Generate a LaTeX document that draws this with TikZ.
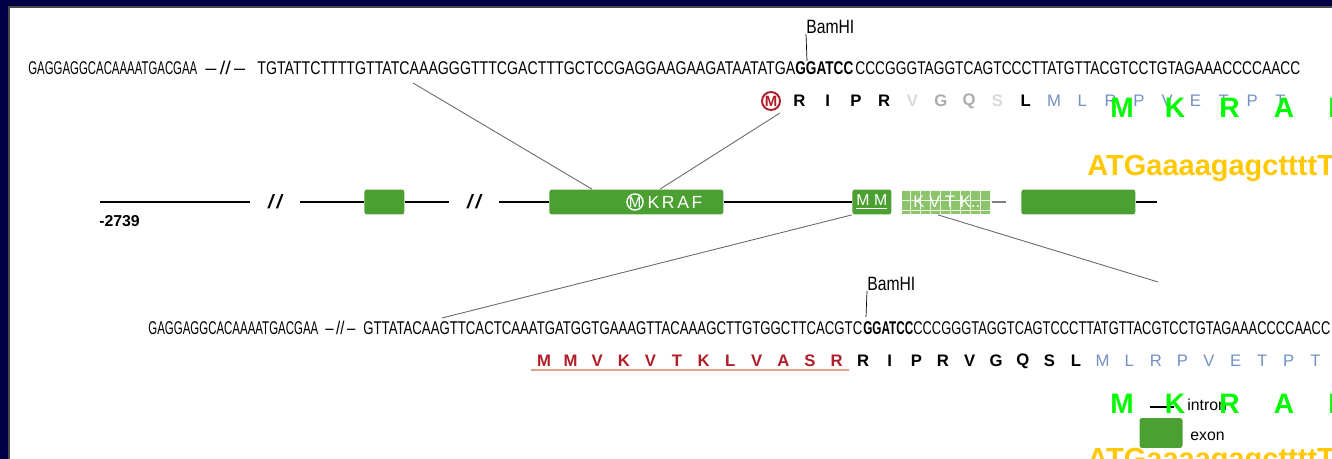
\documentclass[tikz,border=0pt]{standalone}
\usepackage{fontspec}
\setmainfont{Liberation Sans}
\usetikzlibrary{positioning, calc}
\definecolor{framenavy}{RGB}{0,0,70}
\definecolor{exongreen}{RGB}{76,160,50}
\definecolor{hatchgreen}{RGB}{140,196,108}
\definecolor{aared}{RGB}{175,30,40}
\definecolor{aablue}{RGB}{115,145,195}
\definecolor{cutgray}{RGB}{105,105,105}
\definecolor{ulsalmon}{RGB}{225,160,140}
\definecolor{limegreen}{RGB}{0,250,0}
\definecolor{goldtxt}{RGB}{255,200,0}
\newcommand{\fitw}[2]{\resizebox{#1}{\height}{#2}}

\begin{document}
\begin{tikzpicture}[
    x=0.02cm, y=-0.02cm,
    seqtxt/.style={anchor=base west, inner sep=0pt, font=\fontsize{10.5}{11}\selectfont},
    aa/.style={inner sep=0pt, font=\fontsize{9.5}{10}\selectfont\bfseries},
    exon/.style={fill=exongreen, rounded corners=1.5pt, inner sep=0pt,
                 minimum height=0.5cm, anchor=west, text=white,
                 font=\fontsize{9}{10}\selectfont},
    hatch/.style={fill=hatchgreen, inner sep=0pt, minimum height=0.5cm,
                  anchor=west, text=white, font=\fontsize{9}{10}\selectfont},
    intron/.style={line width=1.3pt},
    cut/.style={cutgray, line width=0.5pt},
    brk/.style={inner sep=0pt, minimum width=1cm, font=\fontsize{11}{11}\selectfont\bfseries\itshape},
    site/.style={inner sep=0pt, anchor=south west, font=\fontsize{11}{11}\selectfont},
    bigaa/.style={inner sep=0pt, anchor=west, text=limegreen, font=\fontsize{16}{16}\selectfont\bfseries},
    bigseq/.style={inner sep=0pt, anchor=west, text=goldtxt, font=\fontsize{16.5}{17}\selectfont\bfseries},
    lgd/.style={inner sep=0pt, anchor=west, font=\fontsize{9}{10}\selectfont}
  ]
    \useasboundingbox (0,0) rectangle (1332,459);
    \clip (0,0) rectangle (1332,459);
    \fill[framenavy] (0,0) rectangle (1332,459);
    \fill[white] (9,7) rectangle (1332,459);
    \draw[black!70, line width=0.6pt] (9,459) -- (9,7) -- (1332,7);

    % upper sequence
    \node[seqtxt] (tA)   at (28,75)  {\fitw{3.38cm}{GAGGAGGCACAAAATGACGAA}};
    \node[seqtxt] (tbrk) at (205,75) {\fitw{0.8cm}{\textendash\,//\,\textendash}};
    \node[seqtxt] (tB)   at (257,75) {\fitw{10.76cm}{TGTATTCTTTTGTTATCAAAGGGTTTCGACTTTGCTCCGAGGAAGAAGATAATATGA}};
    \node[seqtxt, font=\fontsize{10.5}{11}\selectfont\bfseries] (tC) at (795,75) {\fitw{1.16cm}{GGATCC}};
    \node[seqtxt] (tD)   at (855,75) {\fitw{8.9cm}{CCCGGGTAGGTCAGTCCCTTATGTTACGTCCTGTAGAAACCCCAACC}};
    \node[site] (tsite) at (806,34) {\fitw{0.96cm}{BamHI}};
    \coordinate (ttick) at (807,61);
    \draw[thin] (ttick) -- (tsite.south west);

    \node[draw=aared, circle, line width=1.1pt, text=aared, inner sep=0pt, minimum size=0.36cm,
          font=\fontsize{8.5}{8}\selectfont\bfseries] (tM) at (771,101) {M};
    \foreach \aa/\c [count=\i] in {R/black, I/black, P/black, R/black, V/gray!30,
                                   G/gray!65, Q/gray!65, S/gray!30, L/black}
      \node[aa, text=\c] (ta\i) at ({771+28.3*\i},101) {\aa};
    \foreach \aa [count=\i from 10] in {M,L,R,P,V,E,T,P,T}
      \node[aa, text=aablue, font=\fontsize{9.5}{10}\selectfont] (ta\i) at ({771+28.3*\i},101) {\aa};

    % gene model
    \coordinate (gstart) at (100,202);
    \node[brk] (brk1) at (275,202) {/\,/};
    \node[exon, minimum width=0.8cm] (ex1) at (364,202) {};
    \node[brk] (brk2) at (474,202) {/\,/};
    \node[exon, minimum width=3.48cm] (ex2) at (549,202) {};
    \node[draw=white, circle, line width=0.8pt, text=white, inner sep=0pt, minimum size=0.32cm,
          font=\fontsize{8.5}{8}\selectfont] (kM) at (635,202) {M};
    \node[right=2pt of kM, inner sep=0pt, text=white,
          font=\fontsize{10}{10}\selectfont\addfontfeature{LetterSpace=15}] (kraf) {KRAF};
    \node[exon, minimum width=0.78cm] (ex3) at (852,202) {\underline{M M}};
    \node[hatch, minimum width=1.78cm] (ex3b) at (902,202) {};
    \draw[white!85!hatchgreen, line width=0.3pt, step=0.2cm] (ex3b.south west) grid (ex3b.north east);
    \node[inner sep=0pt, text=white, font=\fontsize{9.5}{10}\selectfont] (kvtk) at (ex3b) {K V T K..};
    \coordinate (gdash) at (1006,202);
    \node[exon, minimum width=2.28cm] (ex4) at (1021,202) {};
    \coordinate (gend) at (1157,202);
    \draw[intron] (gstart) -- (brk1.west);
    \draw[intron] (brk1.east) -- (ex1.west);
    \draw[intron] (ex1.east) -- (brk2.west);
    \draw[intron] (brk2.east) -- (ex2.west);
    \draw[intron] (ex2.east) -- (ex3.west);
    \draw[gray, line width=1pt] (ex3b.east) -- (gdash);
    \draw[intron] (ex4.east) -- (gend);
    \node[inner sep=0pt, anchor=west, font=\fontsize{9}{10}\selectfont\bfseries] (gpos) at (99,221) {-2739};

    \coordinate (tcut1) at (413,83);
    \coordinate (tcut2) at (780,113);
    \draw[cut] (tcut1) -- ($(ex2.north west)+(43,0)$);
    \draw[cut] (tcut2) -- ($(ex2.north west)+(111,0)$);
    \coordinate (bcut1) at (442,318);
    \coordinate (bcut2) at (1158,282);
    \draw[cut] (ex3.south west) -- (bcut1);
    \draw[cut] ($(ex3b.south west)+(36,0)$) -- (bcut2);

    % lower sequence
    \node[seqtxt] (bA)   at (148,335) {\fitw{3.4cm}{GAGGAGGCACAAAATGACGAA}};
    \node[seqtxt] (bbrk) at (325,335) {\fitw{0.6cm}{\textendash\,//\,\textendash}};
    \node[seqtxt] (bB)   at (363,335) {\fitw{9.98cm}{GTTATACAAGTTCACTCAAATGATGGTGAAAGTTACAAAGCTTGTGGCTTCACGTC}};
    \node[seqtxt, font=\fontsize{10.5}{11}\selectfont\bfseries] (bC) at (863,335) {\fitw{1.0cm}{GGATCC}};
    \node[seqtxt] (bD)   at (913,335) {\fitw{8.34cm}{CCCGGGTAGGTCAGTCCCTTATGTTACGTCCTGTAGAAACCCCAACC}};
    \node[site] (bsite) at (867,291) {\fitw{0.96cm}{BamHI}};
    \coordinate (btick) at (866,317);
    \draw[thin] (btick) -- (bsite.south west);

    \foreach \aa [count=\i] in {M,M,V,K,V,T,K,L,V,A,S,R}
      \node[aa, text=aared] (ba\i) at ({544+26.6*(\i-1)},361) {\aa};
    \foreach \aa [count=\i from 13] in {R,I,P,R,V,G,Q,S,L}
      \node[aa] (ba\i) at ({544+26.6*(\i-1)},361) {\aa};
    \foreach \aa [count=\i from 22] in {M,L,R,P,V,E,T,P,T}
      \node[aa, text=aablue, font=\fontsize{9.5}{10}\selectfont] (ba\i) at ({544+26.6*(\i-1)},361) {\aa};
    \draw[ulsalmon, line width=1.2pt] ($(ba1.south west)+(-6,3)$) -- ($(ba12.south east)+(6,3)$);

    % legend
    \node[lgd] (lintron) at (1187,405) {intron};
    \coordinate (lline) at (1150,407);
    \draw[intron] (lline) -- ++(24,0);
    \node[exon, anchor=center, minimum width=0.86cm, minimum height=0.6cm] (lexon) at (1161,433) {};
    \node[lgd] (lexontxt) at (1190,436) {exon};

    % overlay
    \foreach \aa [count=\i from 0] in {M,K,R,A,I} {
      \node[bigaa] (limeT\i) at ({1110+54.5*\i},108) {\aa};
      \node[bigaa] (limeB\i) at ({1110+54.5*\i},404) {\aa};
    }
    \node[bigseq] (goldT) at (1087,168) {ATGaaaagagcttttT};
    \node[bigseq] (goldB) at (1087,461) {ATGaaaagagcttttT};
\end{tikzpicture}
\end{document}
